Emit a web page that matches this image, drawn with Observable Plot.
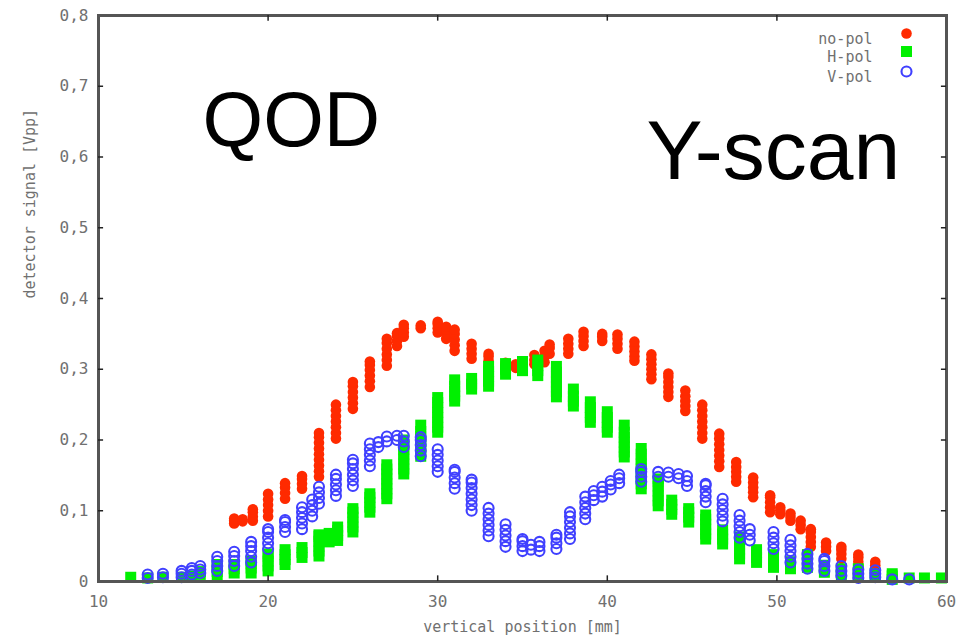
<!DOCTYPE html>
<html>
<head>
<meta charset="utf-8">
<script src="https://cdn.jsdelivr.net/npm/d3@7"></script>
<script src="https://cdn.jsdelivr.net/npm/@observablehq/plot@0.6"></script>
<style>
  html, body { margin: 0; padding: 0; background: #fff; }
</style>
</head>
<body>
<div id="chart"></div>
<script>
// ---- tick values ----
const xTicks = [10, 20, 30, 40, 50, 60];
const yTicks = [0, 0.1, 0.2, 0.3, 0.4, 0.5, 0.6, 0.7, 0.8];

// ---- labels ----
const xLabel = "vertical position [mm]";
const yLabel = "detector signal [Vpp]";
const seriesNames = ["no-pol", "H-pol", "V-pol"];
const titleLeft = "QOD";
const titleRight = "Y-scan";

// ---- no-pol (red dots): x position and the stack of readings at it ----
const noPolX = [18, 18.5, 19.1, 20, 21, 22, 23, 24, 25, 26, 27, 27.6, 28, 29, 30, 30.5, 31, 32, 33, 34, 34.6,
  35.7, 36.3, 36.6, 37.7, 38.6, 39.7, 40.6, 41.6, 42.6, 43.6, 44.6, 45.6, 46.6, 47.6, 48.6, 49.6, 50.2,
  50.8, 51.4, 52, 52.9, 53.8, 54.8, 55.8];
const noPolY = [
  [0.082, 0.086, 0.089], [0.085, 0.088], [0.086, 0.092, 0.098, 0.102],
  [0.092, 0.1, 0.108, 0.116, 0.124], [0.117, 0.125, 0.133, 0.139], [0.131, 0.138, 0.145, 0.149],
  [0.148, 0.156, 0.164, 0.172, 0.18, 0.188, 0.196, 0.204, 0.21],
  [0.202, 0.21, 0.218, 0.226, 0.234, 0.242, 0.25],
  [0.244, 0.252, 0.26, 0.268, 0.276, 0.282],
  [0.275, 0.283, 0.291, 0.299, 0.306, 0.311],
  [0.305, 0.313, 0.321, 0.329, 0.337, 0.343],
  [0.333, 0.34, 0.347, 0.351], [0.346, 0.352, 0.358, 0.363], [0.358, 0.362],
  [0.352, 0.358, 0.364, 0.367], [0.343, 0.35, 0.356, 0.36], [0.326, 0.334, 0.342, 0.35, 0.356],
  [0.315, 0.322, 0.329, 0.336], [0.305, 0.312, 0.318, 0.322], [0.302, 0.306, 0.309], [0.302, 0.307],
  [0.307, 0.313, 0.32], [0.31, 0.318, 0.326], [0.322, 0.33, 0.335], [0.322, 0.329, 0.336, 0.343],
  [0.333, 0.34, 0.347, 0.353], [0.34, 0.346, 0.35], [0.329, 0.336, 0.343, 0.349],
  [0.312, 0.318, 0.325, 0.332, 0.339], [0.286, 0.293, 0.3, 0.307, 0.314, 0.321],
  [0.261, 0.268, 0.275, 0.282, 0.289, 0.294], [0.241, 0.248, 0.255, 0.262, 0.27],
  [0.202, 0.21, 0.218, 0.226, 0.234, 0.242, 0.25], [0.162, 0.17, 0.178, 0.186, 0.194, 0.202, 0.209],
  [0.141, 0.148, 0.155, 0.162, 0.169], [0.119, 0.126, 0.133, 0.14, 0.147],
  [0.098, 0.105, 0.112, 0.119, 0.122], [0.095, 0.1, 0.105], [0.086, 0.091, 0.096],
  [0.074, 0.08, 0.086], [0.049, 0.056, 0.063, 0.07, 0.074], [0.043, 0.049, 0.055],
  [0.032, 0.039, 0.045, 0.049], [0.022, 0.028, 0.034, 0.038], [0.018, 0.023, 0.028]
];

// ---- H-pol (green squares) ----
const hPolX = [11.9, 12.9, 13.8, 14.9, 15.5, 16, 17, 18, 19, 20, 21, 22, 23, 23.6, 24.1, 25, 26, 27, 28, 29,
  30, 31, 32, 33, 34, 35, 35.9, 37, 38, 39, 40, 41, 42, 43, 43.8, 44.8, 45.8, 46.8, 47.8, 48.8, 49.8,
  50.8, 51.8, 52.8, 53.8, 54.8, 55.8, 56.8, 57.8, 58.7, 59.7];
const hPolY = [
  [0.006], [0.005], [0.006], [0.006], [0.008], [0.01, 0.014], [0.008, 0.014, 0.02, 0.024],
  [0.012, 0.018, 0.024], [0.012, 0.019, 0.026, 0.029], [0.015, 0.022, 0.029, 0.036, 0.039],
  [0.024, 0.031, 0.038, 0.045], [0.034, 0.041, 0.048], [0.036, 0.043, 0.05, 0.057, 0.064, 0.066],
  [0.056, 0.062, 0.068], [0.058, 0.065, 0.072, 0.077], [0.07, 0.077, 0.084, 0.091, 0.098, 0.103],
  [0.098, 0.105, 0.112, 0.119, 0.124], [0.117, 0.124, 0.131, 0.138, 0.145, 0.152, 0.159, 0.165],
  [0.152, 0.159, 0.166, 0.173, 0.18, 0.187, 0.194, 0.2], [0.177, 0.184, 0.191, 0.198, 0.205, 0.212, 0.221],
  [0.211, 0.218, 0.225, 0.232, 0.239, 0.246, 0.253, 0.26], [0.255, 0.262, 0.269, 0.276, 0.285],
  [0.272, 0.279, 0.287], [0.276, 0.283, 0.29, 0.297, 0.304], [0.293, 0.3, 0.308], [0.298, 0.305, 0.311],
  [0.291, 0.298, 0.305, 0.313], [0.261, 0.268, 0.275, 0.282, 0.289, 0.296, 0.304], [0.248, 0.255, 0.262, 0.272],
  [0.225, 0.232, 0.239, 0.246, 0.254], [0.211, 0.218, 0.225, 0.232, 0.24],
  [0.176, 0.183, 0.19, 0.197, 0.204, 0.211, 0.221],
  [0.131, 0.138, 0.145, 0.152, 0.159, 0.166, 0.173, 0.18, 0.188],
  [0.107, 0.114, 0.121, 0.128, 0.135, 0.142, 0.145], [0.095, 0.102, 0.109, 0.115],
  [0.084, 0.091, 0.098, 0.103], [0.06, 0.067, 0.074, 0.081, 0.088, 0.094], [0.053, 0.06, 0.067, 0.073],
  [0.032, 0.039, 0.046, 0.053, 0.06, 0.063], [0.027, 0.034, 0.041, 0.045], [0.02, 0.027, 0.034, 0.038],
  [0.018, 0.023, 0.028], [0.02, 0.027, 0.034, 0.038], [0.013, 0.018, 0.023], [0.008, 0.013, 0.018],
  [0.006, 0.012, 0.018], [0.006, 0.011], [0.003, 0.008, 0.011], [0.005], [0.005], [0.005]
];

// ---- V-pol (blue open circles) ----
const vPolX = [12.9, 13.8, 14.9, 15.5, 16, 17, 18, 19, 20, 21, 22, 22.6, 23, 24, 25, 26, 26.5, 27, 27.6, 28,
  29, 30, 31, 32, 33, 34, 35, 35.5, 36, 37, 37.8, 38.7, 39.2, 39.7, 40.2, 40.7, 42, 43, 43.6, 44.2, 44.7,
  45.8, 46.8, 47.8, 48.4, 49.8, 50.8, 51.8, 52.8, 53.8, 54.8, 55.8, 56.8, 57.8];
const vPolY = [
  [0.005, 0.01], [0.006, 0.011], [0.006, 0.011, 0.015], [0.01, 0.015, 0.019], [0.012, 0.017, 0.022],
  [0.015, 0.022, 0.029, 0.035], [0.022, 0.029, 0.036, 0.042], [0.027, 0.035, 0.043, 0.05, 0.056],
  [0.046, 0.054, 0.062, 0.07, 0.074], [0.07, 0.077, 0.084, 0.087], [0.074, 0.082, 0.09, 0.098, 0.105],
  [0.092, 0.1, 0.108, 0.116], [0.11, 0.118, 0.126, 0.134], [0.121, 0.129, 0.137, 0.145, 0.151],
  [0.135, 0.143, 0.151, 0.159, 0.167, 0.172], [0.163, 0.171, 0.179, 0.187, 0.195], [0.19, 0.197],
  [0.198, 0.205], [0.2, 0.206], [0.19, 0.198, 0.206], [0.177, 0.185, 0.193, 0.2, 0.204],
  [0.155, 0.163, 0.171, 0.179, 0.187], [0.131, 0.139, 0.147, 0.155, 0.158],
  [0.1, 0.108, 0.116, 0.124, 0.132, 0.14, 0.144], [0.064, 0.072, 0.08, 0.088, 0.096, 0.104],
  [0.049, 0.057, 0.065, 0.073, 0.081], [0.043, 0.05, 0.057, 0.06], [0.045, 0.052], [0.043, 0.05, 0.056],
  [0.046, 0.054, 0.062, 0.066], [0.06, 0.068, 0.076, 0.084, 0.092, 0.098], [0.088, 0.096, 0.104, 0.112, 0.12],
  [0.115, 0.122, 0.128], [0.12, 0.127, 0.134], [0.13, 0.137, 0.142], [0.139, 0.146, 0.151],
  [0.141, 0.148, 0.155, 0.159], [0.148, 0.155], [0.148, 0.154], [0.146, 0.152], [0.135, 0.142, 0.149],
  [0.112, 0.12, 0.128, 0.136, 0.138], [0.085, 0.093, 0.101, 0.109, 0.117], [0.062, 0.07, 0.078, 0.086, 0.094],
  [0.058, 0.066, 0.074], [0.046, 0.054, 0.062, 0.07], [0.027, 0.035, 0.043, 0.051, 0.059],
  [0.018, 0.025, 0.032, 0.039], [0.015, 0.022, 0.029, 0.032], [0.008, 0.015, 0.022], [0.005, 0.011, 0.017],
  [0.006, 0.011, 0.016], [0.003], [0.003]
];

// ---- colours ----
const colRed = "#ff2a00";
const colGreen = "#00f000";
const colBlue = "#4040ff";

function rows(xs, ys) {
  return xs.flatMap((x, i) => ys[i].map(y => ({x, y})));
}
const noPol = rows(noPolX, noPolY);
const hPol = rows(hPolX, hPolY);
const vPol = rows(vPolX, vPolY);

const mono = "'DejaVu Sans Mono', 'Liberation Mono', monospace";
const sans = "'Liberation Sans', Arial, Helvetica, sans-serif";
const fmt = d => d === 0 ? "0" : (Number.isInteger(d) ? String(d) : d3.format(".1f")(d).replace(".", ","));

const chart = Plot.plot({
  width: 965,
  height: 640,
  marginLeft: 98,
  marginRight: 19,
  marginTop: 15,
  marginBottom: 59,
  style: {fontFamily: mono, color: "#707070", background: "#fff"},
  x: {domain: [10, 60], label: null},
  y: {domain: [0, 0.8], label: null},
  marks: [
    // data
    Plot.dot(noPol, {x: "x", y: "y", r: 5.3, fill: colRed, stroke: "none"}),
    Plot.dot(hPol, {x: "x", y: "y", symbol: "square", r: 6.2, fill: colGreen, stroke: "none"}),
    Plot.dot(vPol, {x: "x", y: "y", symbol: "circle", r: 5, fill: "none", stroke: colBlue, strokeWidth: 2.1}),
    // frame and inward ticks (gnuplot style, all four sides)
    Plot.frame({stroke: "#555", strokeWidth: 3}),
    Plot.ruleX(xTicks.slice(1, -1), {x: d => d, y1: 0, y2: 0.008, stroke: "#222", strokeWidth: 1.5}),
    Plot.ruleX(xTicks.slice(1, -1), {x: d => d, y1: 0.8, y2: 0.792, stroke: "#222", strokeWidth: 1.5}),
    Plot.ruleY(yTicks.slice(1, -1), {y: d => d, x1: 10, x2: 10.3, stroke: "#222", strokeWidth: 1.5}),
    Plot.ruleY(yTicks.slice(1, -1), {y: d => d, x1: 60, x2: 59.7, stroke: "#222", strokeWidth: 1.5}),
    // tick labels
    Plot.axisX({ticks: xTicks, tickSize: 0, tickPadding: 14, tickFormat: fmt, fontSize: 16, fontFamily: mono, label: null}),
    Plot.axisY({ticks: yTicks, tickSize: 0, tickPadding: 10, tickFormat: fmt, fontSize: 16, fontFamily: mono, label: null}),
    // axis titles
    Plot.text([xLabel], {frameAnchor: "bottom", dy: 50, fontSize: 15, fontFamily: mono, fill: "#707070"}),
    Plot.text([yLabel], {frameAnchor: "left", dx: -68, rotate: -90, fontSize: 15, fontFamily: mono, fill: "#707070"}),
    // big annotations
    Plot.text([titleLeft], {frameAnchor: "top-left", textAnchor: "start", lineAnchor: "top", dx: 104, dy: 75,
      fontSize: 78, fontFamily: sans, fill: "#000", letterSpacing: 7}),
    Plot.text([titleRight], {frameAnchor: "top-left", textAnchor: "start", lineAnchor: "top", dx: 548, dy: 104,
      fontSize: 84, fontFamily: sans, fill: "#000"}),
    // legend
    Plot.text([seriesNames[0]], {frameAnchor: "top-right", textAnchor: "end", dx: -74, dy: 18, fontSize: 15, fontFamily: mono, fill: "#707070"}),
    Plot.text([seriesNames[1]], {frameAnchor: "top-right", textAnchor: "end", dx: -74, dy: 36, fontSize: 15, fontFamily: mono, fill: "#707070"}),
    Plot.text([seriesNames[2]], {frameAnchor: "top-right", textAnchor: "end", dx: -74, dy: 56, fontSize: 15, fontFamily: mono, fill: "#707070"}),
    Plot.dot([0], {frameAnchor: "top-right", dx: -40, dy: 18, r: 5.3, fill: colRed, stroke: "none"}),
    Plot.dot([0], {frameAnchor: "top-right", dx: -40, dy: 36, symbol: "square", r: 6.2, fill: colGreen, stroke: "none"}),
    Plot.dot([0], {frameAnchor: "top-right", dx: -40, dy: 56, symbol: "circle", r: 5, fill: "none", stroke: colBlue, strokeWidth: 2.1})
  ]
});
document.getElementById("chart").append(chart);
</script>
</body>
</html>
